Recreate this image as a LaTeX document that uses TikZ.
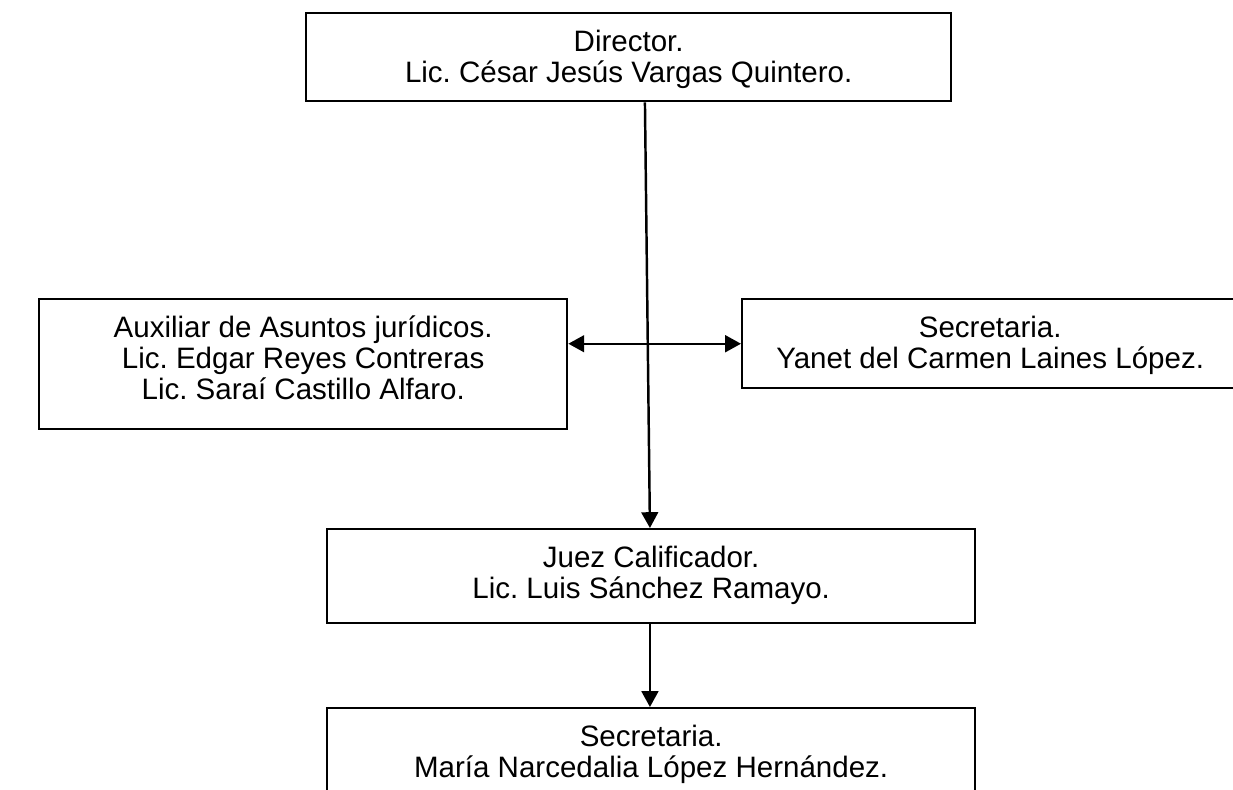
\documentclass[tikz,border=0pt]{standalone}
\usepackage{fontspec}
\setmainfont{Liberation Sans}
\usepackage{tikz}
\usetikzlibrary{arrows.meta}

\frenchspacing
\newcommand{\cajatexto}[3]{\parbox[c][#2][t]{#1}{\centering\rule{0pt}{21.5pt}#3\par}}

\tikzset{
  cargo/.style={draw=black, line width=1.4pt, inner sep=0pt, anchor=north west, font=\fontsize{16.8}{17.8}\selectfont},
  flecha/.style={line width=1.4pt, -{Triangle[length=9pt,width=9.5pt]}},
  doble/.style={line width=1.4pt, {Triangle[length=9pt,width=9.5pt]}-{Triangle[length=9pt,width=9.5pt]}}
}

\begin{document}
\begin{tikzpicture}[x=0.02cm, y=-0.02cm]

    \useasboundingbox (0,0) rectangle (1233,789);
    \clip (0,0) rectangle (1233,789);

    \node[cargo] (dir) at (305, 12)   {\cajatexto{12.9cm}{1.76cm}{Director.\\Lic. César Jesús Vargas Quintero.}};
    \node[cargo] (aux) at (38, 298)   {\cajatexto{10.56cm}{2.6cm}{Auxiliar de Asuntos jurídicos.\\Lic. Edgar Reyes Contreras\\Lic. Saraí Castillo Alfaro.}};
    \node[cargo] (sec1) at (741, 298) {\cajatexto{9.92cm}{1.78cm}{Secretaria.\\Yanet del Carmen Laines López.}};
    \node[cargo] (juez) at (326, 528) {\cajatexto{12.96cm}{1.88cm}{Juez Calificador.\\Lic. Luis Sánchez Ramayo.}};
    \node[cargo] (sec2) at (326, 707) {\cajatexto{12.96cm}{2.4cm}{Secretaria.\\María Narcedalia López Hernández.}};

    \path[flecha] ([xshift=6.8cm]dir.south west) edge ([xshift=6.48cm]juez.north west);
    \path[doble] (sec1.west -| aux.east) edge (sec1.west);
    \path[flecha] ([xshift=6.48cm]juez.south west) edge ([xshift=6.48cm]sec2.north west);

\end{tikzpicture}
\end{document}
